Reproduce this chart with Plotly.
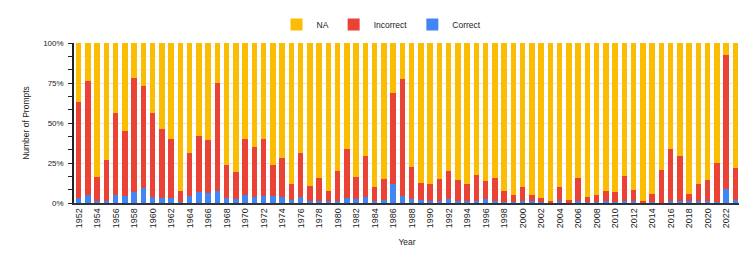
import plotly.graph_objects as go

years = list(range(1952, 2024))

correct = [3, 5, 1, 1, 5, 4.5, 7, 9.5, 3.5, 3, 3, 0.5, 4.5, 7, 6, 7.5, 3, 2.5, 5, 3.5,
           4.5, 4.5, 3.5, 2, 3.5, 1, 1, 1, 1, 3, 2.5, 3.5, 1, 2, 12, 4.5, 2.5, 2, 1, 1,
           2.5, 1, 1, 1, 2.5, 1, 0.5, 0.5, 1, 1, 0.5, 0, 1, 0, 1, 0.5, 0.5, 1, 0.5, 1,
           1, 0, 0.5, 0, 1.5, 1.5, 1, 1, 1, 0.5, 8.5, 2]

incorrect = [60, 71, 15, 26, 51, 40.5, 71, 63.5, 52.5, 43, 37, 7, 26.5, 35, 33.5, 67.5, 20.5, 17, 35, 31.5,
             35.5, 19.5, 24.5, 10, 28, 9.5, 14.5, 6.5, 19, 30.5, 14, 26, 9, 13, 57, 73, 20, 10.5, 11, 14,
             17.5, 13.5, 11, 16.5, 11, 14.5, 7, 4.5, 9, 4, 2.5, 1.5, 9, 2, 14.5, 3, 4.5, 6.5, 6.5, 16,
             7, 1, 5, 20.5, 32.5, 28, 4.5, 11, 13.5, 24.5, 84, 20]

na = [37, 24, 84, 73, 44, 55, 22, 27, 44, 54, 60, 92.5, 69, 58, 60.5, 25, 76.5, 80.5, 60, 65,
      60, 76, 72, 88, 68.5, 89.5, 84.5, 92.5, 80, 66.5, 83.5, 70.5, 90, 85, 31, 22.5, 77.5, 87.5, 88, 85,
      80, 85.5, 88, 82.5, 86.5, 84.5, 92.5, 95, 90, 95, 97, 98.5, 90, 98, 84.5, 96.5, 95, 92.5, 93, 83,
      92, 99, 94.5, 79.5, 66, 70.5, 94.5, 88, 85.5, 75, 7.5, 78]

year_ticks = list(range(1952, 2024, 2))
pct_ticks = [0, 25, 50, 75, 100]

FONT = "Liberation Sans, Arial, sans-serif"

fig = go.Figure()
fig.add_trace(go.Bar(x=years, y=correct, name="Correct", marker_color="#4285F4", marker_line_width=0))
fig.add_trace(go.Bar(x=years, y=incorrect, name="Incorrect", marker_color="#EA4335", marker_line_width=0))
fig.add_trace(go.Bar(x=years, y=na, name="NA", marker_color="#FBBC04", marker_line_width=0))

fig.update_layout(
    width=747, height=253,
    margin=dict(l=66, r=15, t=35, b=58, autoexpand=False),
    barmode="stack", bargap=0.38,
    paper_bgcolor="white", plot_bgcolor="white",
    font=dict(family=FONT, size=8.5, color="#222"),
    showlegend=True,
    legend=dict(orientation="h", traceorder="reversed", xref="container", x=0.5, xanchor="center",
                yref="container", y=0.935, yanchor="middle", itemwidth=30,
                font=dict(size=8.5, color="#222"), itemclick=False),
    xaxis=dict(
        range=[1951.5, 2023.5], tickmode="array", tickvals=year_ticks,
        ticktext=[str(y) for y in year_ticks], tickangle=-90,
        tickfont=dict(size=9, color="#222"), showgrid=False, automargin=False,
        showline=True, linecolor="#333", linewidth=1.5, ticks="",
        title=dict(text="Year", font=dict(size=8.5, color="#222"), standoff=12),
    ),
    yaxis=dict(
        range=[0, 100], tickmode="array", tickvals=pct_ticks,
        ticktext=[f"{v}%" for v in pct_ticks],
        tickfont=dict(size=8, color="#222"), automargin=False, ticklabelstandoff=3,
        showgrid=True, gridcolor="#e4e4e4", gridwidth=1,
        showline=True, linecolor="#222", linewidth=1.5,
        ticks="outside", ticklen=4, tickcolor="#222", zeroline=False,
        minor=dict(dtick=25/3, tick0=0, ticks="outside", ticklen=4, tickcolor="#222",
                   showgrid=True, gridcolor="#f3f3f3"),
        title=dict(text="Number of Prompts", font=dict(size=8.5, color="#222"), standoff=12),
    ),
)

fig.write_html("out.html")
